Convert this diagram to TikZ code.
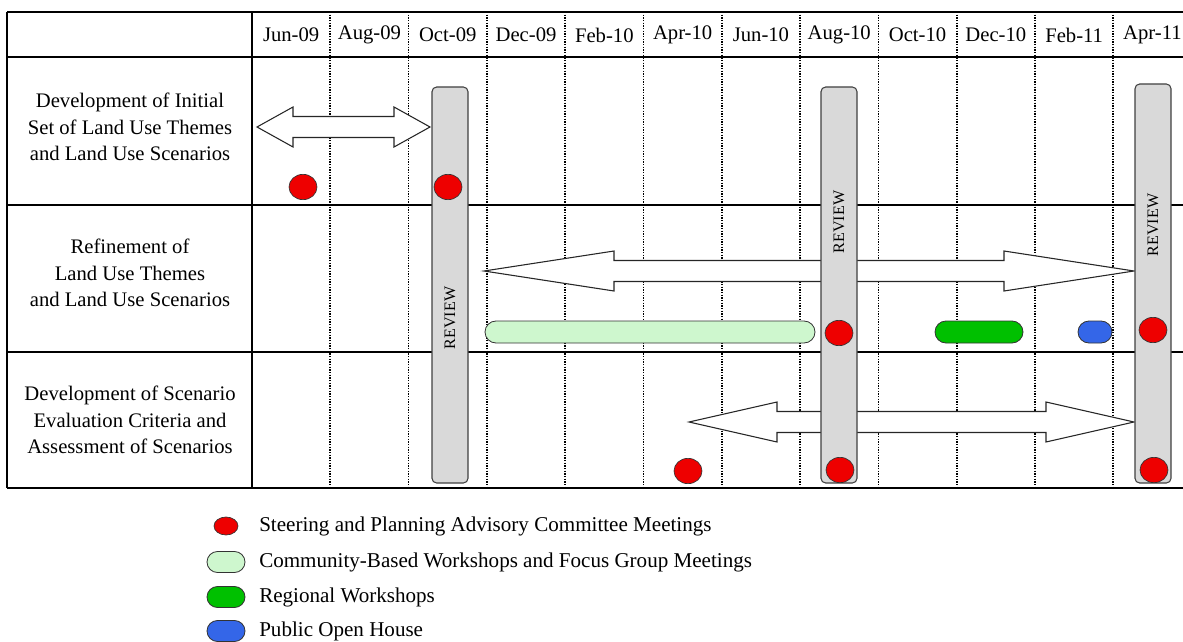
\documentclass[tikz,border=0pt]{standalone}
\usepackage{fontspec}
\setmainfont{Liberation Serif}
\usepackage{xcolor}
\usetikzlibrary{shapes.geometric,shapes.misc}

\definecolor{meetred}{RGB}{238,0,0}
\definecolor{commgreen}{RGB}{206,247,206}
\definecolor{reggreen}{RGB}{0,192,0}
\definecolor{openblue}{RGB}{52,102,232}
\definecolor{reviewgray}{RGB}{217,217,217}

% double headed span arrow: x from, x to, y, head length
\newcommand{\spanarrow}[4]{%
  \draw [span arrow] (#1,#3) -- (#1+#4,#3-20) -- (#1+#4,#3-10.5) -- (#2-#4,#3-10.5) -- (#2-#4,#3-20) -- (#2,#3) -- (#2-#4,#3+20) -- (#2-#4,#3+10.5) -- (#1+#4,#3+10.5) -- (#1+#4,#3+20) -- cycle ;}

\begin{document}
\begin{tikzpicture}[x=0.75pt,y=0.75pt,yscale=-1,xscale=1,
  table line/.style={line width=1.9pt},
  month line/.style={line width=1.3pt, dash pattern=on 1pt off 1pt},
  month/.style={font=\fontsize{15.5}{18}\selectfont, inner sep=0.75pt},
  task/.style={font=\fontsize{15.5}{20}\selectfont, align=center, inner sep=0.75pt},
  legend text/.style={font=\fontsize{15.8}{18}\selectfont, anchor=west, inner sep=0.75pt},
  span arrow/.style={draw=black!85, line width=0.8pt, fill=white},
  review bar/.style={rectangle, rounded corners=3.5pt, draw=black!75, line width=0.8pt, fill=reviewgray, minimum width=27pt, inner sep=0pt},
  review/.style={font=\fontsize{12}{14}\selectfont, rotate=90, inner sep=0.75pt},
  meeting/.style={ellipse, draw=black!80, line width=0.5pt, fill=meetred, minimum width=21pt, minimum height=19pt, inner sep=0pt},
  pill/.style={rounded rectangle, draw=black!80, line width=0.6pt, minimum height=16.5pt, inner sep=0pt}]
\useasboundingbox (0,0) rectangle (1183,642);

% Dotted month dividers
\foreach \k in {1,...,11}
  \draw [month line] (252+78.3*\k,12) -- (252+78.3*\k,488) ;

% Table rules
\draw [table line] (7,12) -- (1183,12) ;
\draw [table line] (7,57) -- (1183,57) ;
\draw [table line] (7,205) -- (1183,205) ;
\draw [table line] (7,352) -- (1183,352) ;
\draw [table line] (7,488) -- (1183,488) ;
\draw [table line] (7,12) -- (7,488) ;
\draw [table line] (252,12) -- (252,488) ;

% Month headings
\foreach \m [count=\k] in {Jun-09,Aug-09,Oct-09,Dec-09,Feb-10,Apr-10,Jun-10,Aug-10,Oct-10,Dec-10,Feb-11,Apr-11}
  \node [month] (mon\k) at (252+78.3*\k-39.15,35) {\m};

% Task labels
\node [task] (task1) at (130,127) {Development of Initial\\Set of Land Use Themes\\and Land Use Scenarios};
\node [task] (task2) at (130,273) {Refinement of\\Land Use Themes\\and Land Use Scenarios};
\node [task] (task3) at (130,420) {Development of Scenario\\Evaluation Criteria and\\Assessment of Scenarios};

% Span arrows
\spanarrow{257}{430}{127}{36}
\spanarrow{484}{1134}{271}{130}
\spanarrow{689}{1134}{422}{88}

% Review bars
\node [review bar, minimum height=297pt] (bar1) at (450,285) {};
\node [review bar, minimum height=297pt] (bar2) at (839,285) {};
\node [review bar, minimum height=299.25pt] (bar3) at (1153,283.5) {};
\node [review] (rev1) at (450,318) {REVIEW};
\node [review] (rev2) at (839,222) {REVIEW};
\node [review] (rev3) at (1153,225) {REVIEW};

% Workshops and open house
\node [pill, fill=commgreen, minimum width=247.5pt] (comm1) at (650,332) {};
\node [pill, fill=reggreen, minimum width=66pt] (reg1) at (979,332) {};
\node [pill, fill=openblue, minimum width=25.5pt] (open1) at (1095,332) {};

% Committee meetings
\node [meeting] (meet1) at (303,187) {};
\node [meeting] (meet2) at (448,187) {};
\node [meeting] (meet3) at (839,333) {};
\node [meeting] (meet4) at (1153,330) {};
\node [meeting] (meet5) at (688,471) {};
\node [meeting] (meet6) at (840,470) {};
\node [meeting] (meet7) at (1154,470) {};

% Legend
\node [meeting, minimum width=18pt, minimum height=13.5pt] (keymeet) at (226,526) {};
\node [pill, fill=commgreen, minimum width=28.5pt, minimum height=15.75pt] (keycomm) at (226,562) {};
\node [pill, fill=reggreen, minimum width=28.5pt, minimum height=15.75pt] (keyreg) at (226,597) {};
\node [pill, fill=openblue, minimum width=28.5pt, minimum height=15.75pt] (keyopen) at (226,631) {};
\node [legend text] (txtmeet) at (258,526) {Steering and Planning Advisory Committee Meetings};
\node [legend text] (txtcomm) at (258,562) {Community-Based Workshops and Focus Group Meetings};
\node [legend text] (txtreg) at (258,597) {Regional Workshops};
\node [legend text] (txtopen) at (258,631) {Public Open House};

\end{tikzpicture}
\end{document}
